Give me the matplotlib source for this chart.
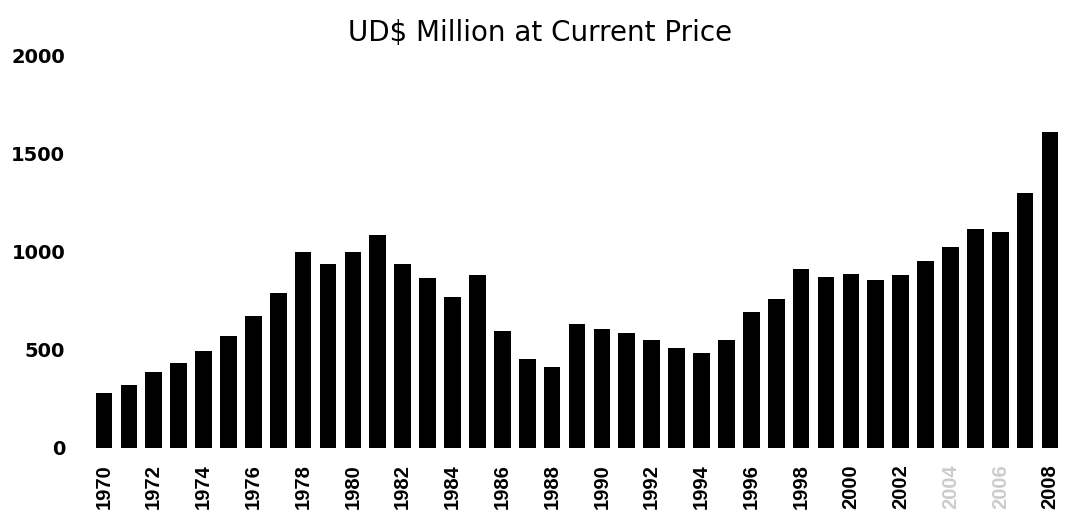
import numpy as np
import matplotlib
matplotlib.use('Agg')
import matplotlib.pyplot as plt

# annual values, UD$ million at current price
years = list(range(1970, 2009))
values = [279, 321, 383, 429, 493, 571, 670, 789, 996, 934,
          996, 1082, 934, 866, 767, 879, 592, 451, 410, 631,
          606, 585, 548, 507, 483, 551, 690, 759, 910, 872,
          883, 857, 881, 951, 1024, 1114, 1100, 1296, 1611]
tick_years = years[::2]
yticks = [0, 500, 1000, 1500, 2000]

fig = plt.figure(figsize=(10.8, 5.15), dpi=100)
ax = fig.add_axes([91.5 / 1080, 67.5 / 515, 971 / 1080, 392 / 515])

x = np.arange(len(years))
ax.bar(x, values, width=0.67, color='black')

ax.set_xlim(-0.5, len(years) - 0.5)
ax.set_ylim(0, 2000)

ax.set_yticks(yticks)
ax.set_yticklabels([str(v) for v in yticks], fontsize=14, fontweight='bold',
                   family='DejaVu Sans')
ax.tick_params(axis='y', length=0, pad=19)

ax.set_xticks(x[::2])
ax.set_xticklabels([str(y) for y in tick_years], rotation=90, fontsize=14.5,
                   fontweight='bold', family='Liberation Sans')
ax.tick_params(axis='x', length=0, pad=12)
# 2004 and 2006 came out faint in the original scan
for lab in ax.get_xticklabels():
    if lab.get_text() in ('2004', '2006'):
        lab.set_color('#cccccc')

for side in ['top', 'right', 'bottom', 'left']:
    ax.spines[side].set_visible(False)

fig.text(0.5, 1 - 33 / 515, 'UD$ Million at Current Price', ha='center',
         va='center', fontsize=20, family='DejaVu Sans')

fig.savefig('out.png', dpi=100)
